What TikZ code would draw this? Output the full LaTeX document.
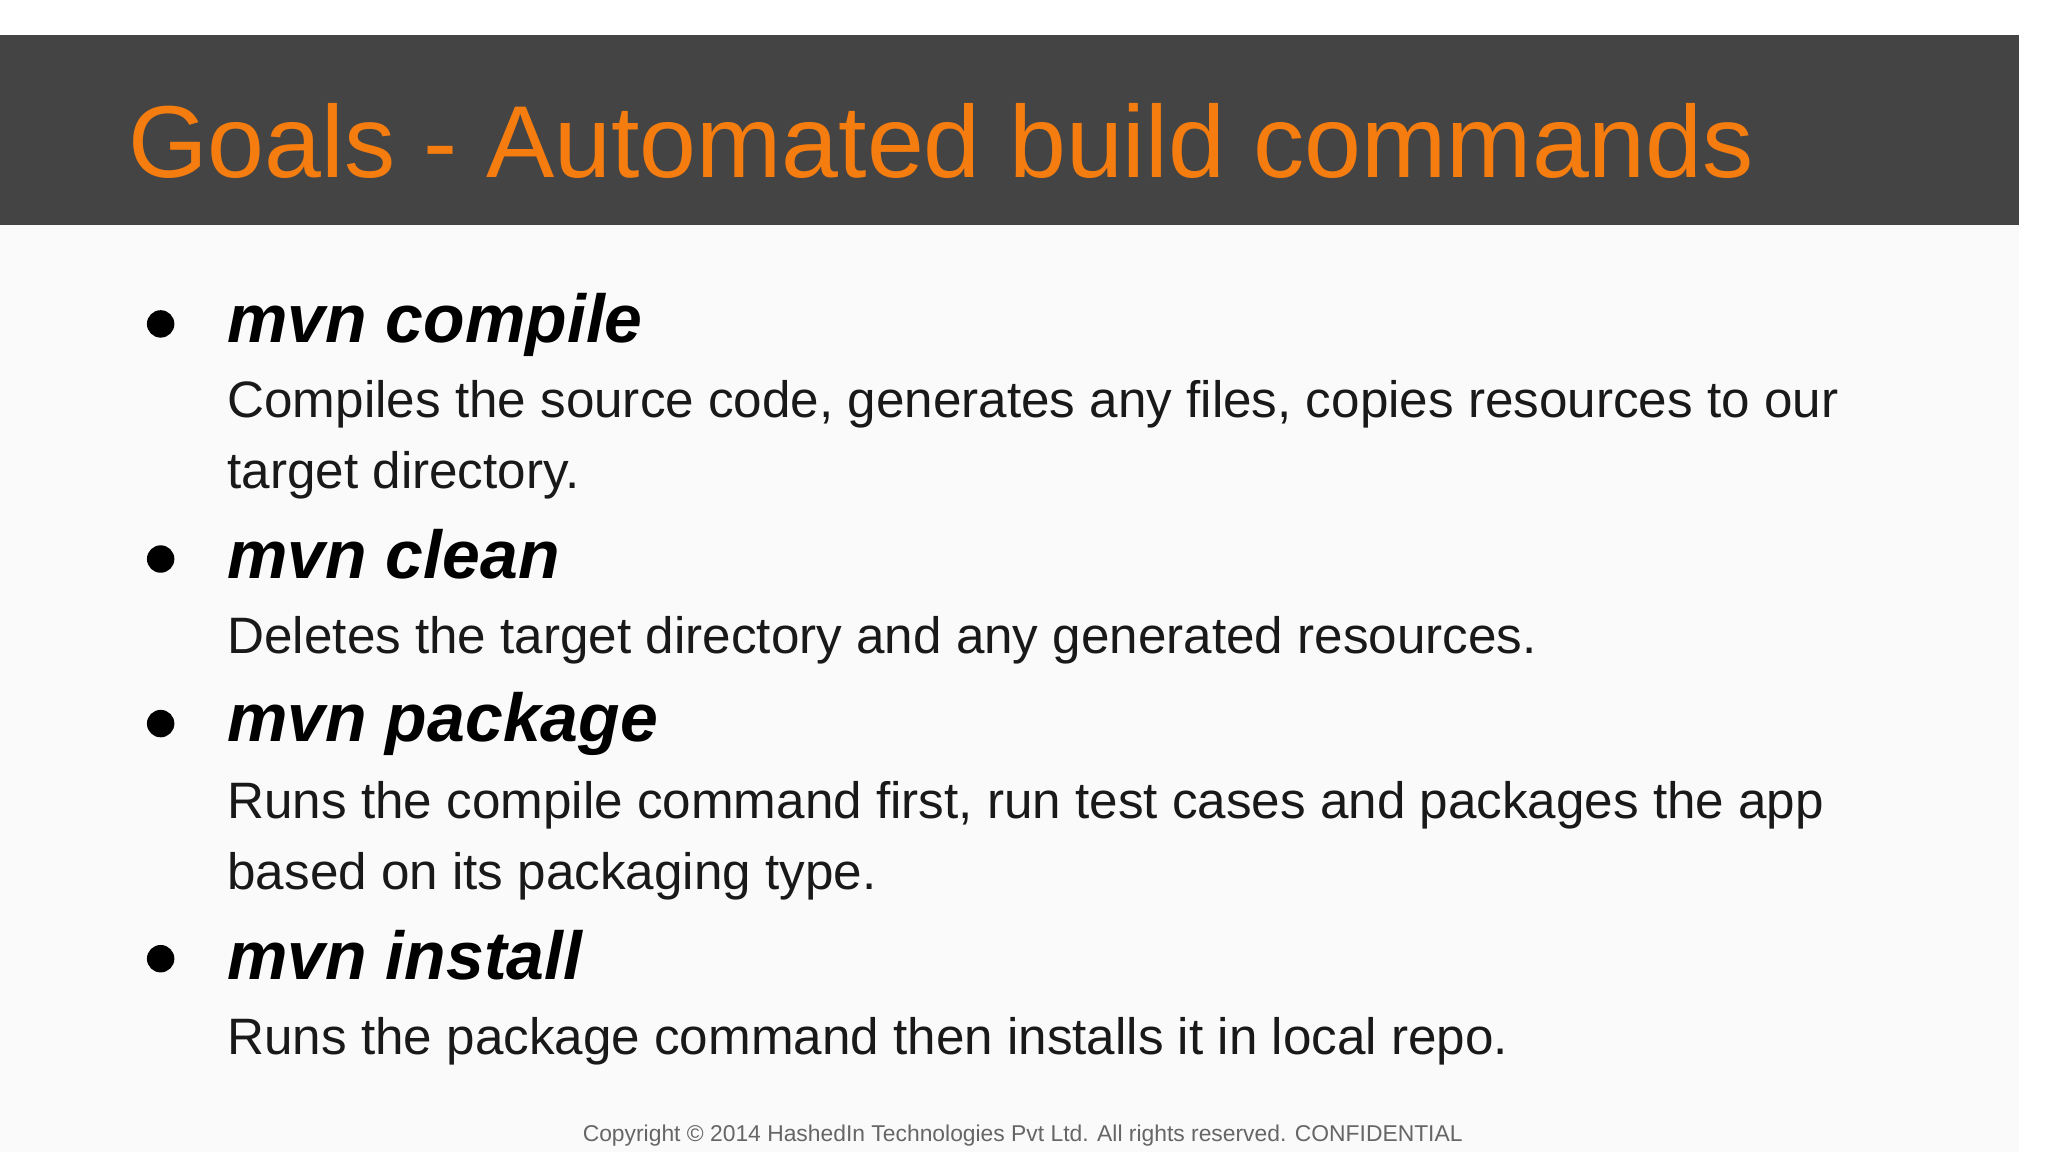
\documentclass[tikz,border=0pt]{standalone}
\usepackage{fontspec}
\setmainfont{Liberation Sans}
\definecolor{band}{HTML}{444444}
\definecolor{ttl}{HTML}{F57C0F}
\definecolor{bg}{HTML}{FAFAFA}
\tikzset{
 head/.style={anchor=base west,inner sep=0pt,font=\fontsize{52}{60}\selectfont\bfseries\itshape},
 body/.style={anchor=base west,inner sep=0pt,font=\fontsize{39.2}{46}\selectfont,text=black!90},
 dot/.style={circle,fill=black,inner sep=0pt,minimum size=21pt}
}
\begin{document}
\begin{tikzpicture}[x=1pt,y=-1pt]
\useasboundingbox (0,0) rectangle (1568,882);
\fill[white] (0,0) rectangle (1568,882);
\fill[bg] (0,172) rectangle (1546,882);
\fill[band] (0,27) rectangle (1546,172);
\node[anchor=base west,inner sep=0pt,text=ttl,font=\fontsize{78.3}{90}\selectfont] (t) at (98,136) {Goals - Automated build commands};
\node[dot] (d1) at (123,248) {};
\node[head] (h1) at (174,262) {mvn compile};
\node[body] (b1) at (174,320) {Compiles the source code, generates any files, copies resources to our};
\node[body] (b1b) at (174,374) {target directory.};
\node[dot] (d2) at (123,428) {};
\node[head] (h2) at (174,443) {mvn clean};
\node[body] (b2) at (174,500) {Deletes the target directory and any generated resources.};
\node[dot] (d3) at (123,554) {};
\node[head] (h3) at (174,568) {mvn package};
\node[body] (b3) at (174,627) {Runs the compile command first, run test cases and packages the app};
\node[body] (b3b) at (174,681) {based on its packaging type.};
\node[dot] (d4) at (123,734) {};
\node[head] (h4) at (174,750) {mvn install};
\node[body] (b4) at (174,807) {Runs the package command then installs it in local repo.};
\node[anchor=base,inner sep=0pt,text=black!60,font=\fontsize{17.5}{20}\selectfont] (f) at (783,874) {Copyright © 2014 HashedIn Technologies Pvt Ltd. All rights reserved. CONFIDENTIAL};
\end{tikzpicture}
\end{document}
